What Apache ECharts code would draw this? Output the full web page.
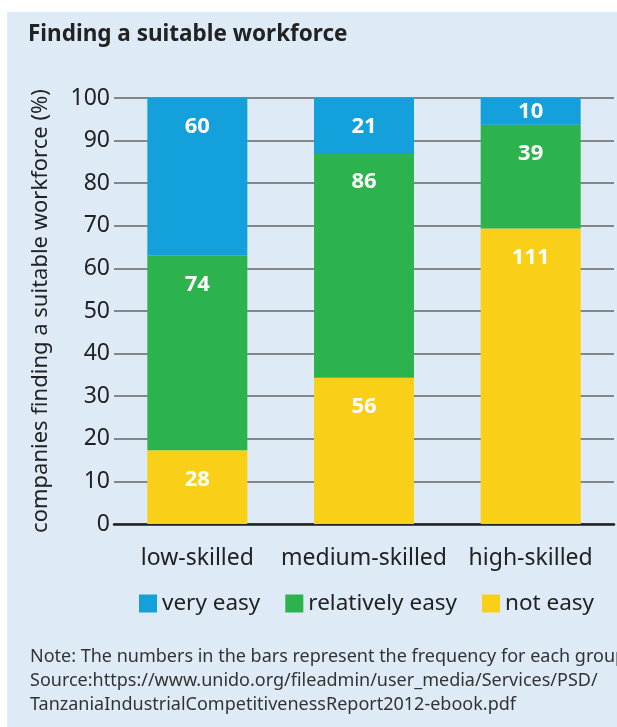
<!DOCTYPE html>
<html>
<head>
<meta charset="utf-8">
<script src="https://cdn.jsdelivr.net/npm/echarts@6/dist/echarts.min.js"></script>
<style>
html,body{margin:0;padding:0;background:#fff;}
#main{width:617px;height:727px;}
</style>
</head>
<body>
<div id="main"></div>
<script>
var categories = ['low-skilled', 'medium-skilled', 'high-skilled'];
var notEasy = [28, 56, 111];
var relativelyEasy = [74, 86, 39];
var veryEasy = [60, 21, 10];
var yTicks = [0, 10, 20, 30, 40, 50, 60, 70, 80, 90, 100];

var totals = categories.map(function (c, i) { return notEasy[i] + relativelyEasy[i] + veryEasy[i]; });
function toItems(arr) {
  return arr.map(function (v, i) {
    var pct = v / totals[i] * 100;
    var item = { value: pct, count: v };
    if (pct < 10) { item.label = { position: 'inside', distance: 0 }; }
    return item;
  });
}
var FONT = '"Noto Sans", "Open Sans", sans-serif';
var labelCfg = {
  show: true, position: 'insideTop', distance: 18, color: '#fff',
  fontSize: 22, fontWeight: 'bold', fontFamily: FONT,
  formatter: function (p) { return p.data.count; }
};
var chart = echarts.init(document.getElementById('main'), null, { renderer: 'canvas' });
chart.setOption({
  animation: false,
  textStyle: { fontFamily: FONT },
  graphic: [
    { type: 'rect', shape: { x: 7, y: 12, width: 610, height: 715 }, style: { fill: '#deebf7' }, z: -10, silent: true },
    { type: 'text', left: 30, top: 648, style: { text: 'Note: The numbers in the bars represent the frequency for each group', fontSize: 18, fill: '#333', fontFamily: FONT } },
    { type: 'text', left: 30, top: 672, style: { text: 'Source:https://www.unido.org/fileadmin/user_media/Services/PSD/', fontSize: 18, fill: '#333', fontFamily: FONT } },
    { type: 'text', left: 30, top: 696, style: { text: 'TanzaniaIndustrialCompetitivenessReport2012-ebook.pdf', fontSize: 18, fill: '#333', fontFamily: FONT } }
  ],
  title: {
    text: 'Finding a suitable workforce', left: 23, top: 18,
    textStyle: { fontSize: 22.5, fontWeight: 'bold', color: '#222', fontFamily: FONT }
  },
  legend: {
    data: ['very easy', 'relatively easy', 'not easy'],
    left: 134, top: 587, icon: 'rect', itemWidth: 18, itemHeight: 18, itemGap: 25,
    textStyle: { fontSize: 22.5, color: '#222', fontFamily: FONT }
  },
  grid: { left: 114, right: 3, top: 98, bottom: 203, containLabel: false },
  xAxis: {
    type: 'category', data: categories,
    axisLine: { lineStyle: { color: '#222', width: 2.5 } },
    axisTick: { show: false },
    axisLabel: { fontSize: 23, color: '#222', margin: 23, interval: 0, hideOverlap: false, fontFamily: FONT }
  },
  yAxis: {
    type: 'value', min: 0, max: 100, interval: 10,
    name: 'companies finding a suitable workforce (%)', nameLocation: 'middle', nameGap: 62,
    nameTextStyle: { fontSize: 22, color: '#222', fontFamily: FONT },
    axisLine: { show: false }, axisTick: { show: false },
    axisLabel: { fontSize: 23, color: '#222', margin: 4, fontFamily: FONT,
      formatter: function (v) { return yTicks.indexOf(v) >= 0 ? String(v) : ''; } },
    splitLine: { lineStyle: { color: '#666', width: 1.5 } }
  },
  series: [
    { name: 'not easy', type: 'bar', stack: 'a', barWidth: 100, data: toItems(notEasy), itemStyle: { color: '#f9d017' }, label: labelCfg },
    { name: 'relatively easy', type: 'bar', stack: 'a', barWidth: 100, data: toItems(relativelyEasy), itemStyle: { color: '#2db34d' }, label: labelCfg },
    { name: 'very easy', type: 'bar', stack: 'a', barWidth: 100, data: toItems(veryEasy), itemStyle: { color: '#13a0db' }, label: labelCfg }
  ]
});
</script>
</body>
</html>
